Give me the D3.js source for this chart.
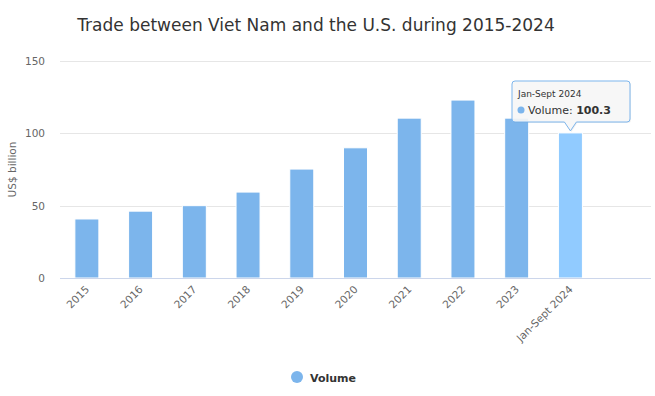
<!DOCTYPE html>
<html>
<head>
<meta charset="utf-8">
<script src="https://cdn.jsdelivr.net/npm/d3@7"></script>
<style>
  body { margin: 0; background: #fff; }
  svg { font-family: 'DejaVu Sans', sans-serif; display: block; }
</style>
</head>
<body>
<svg id="chart" width="655" height="396"></svg>
<script>
const categories = ['2015', '2016', '2017', '2018', '2019', '2020', '2021', '2022', '2023', 'Jan-Sept 2024'];
const volume = [40.8, 46.2, 50, 59.4, 75.3, 90, 110.5, 123, 110.5, 100.3];
const yTicks = [0, 50, 100, 150];
const highlighted = 'Jan-Sept 2024';

const svg = d3.select('#chart');
const plot = { left: 60, right: 651, top: 61, bottom: 278 };
const step = (plot.right - plot.left) / 11;

const x = d3.scaleBand()
  .domain(categories)
  .range([plot.left, plot.left + step * categories.length]);
const y = d3.scaleLinear()
  .domain([0, 150])
  .range([plot.bottom, plot.top]);

// title
svg.append('text')
  .attr('x', 316)
  .attr('y', 31)
  .attr('text-anchor', 'middle')
  .attr('fill', '#333')
  .style('font-size', '17px')
  .text('Trade between Viet Nam and the U.S. during 2015-2024');

// grid
svg.append('g').selectAll('line')
  .data(yTicks.filter(d => d > 0))
  .enter()
  .append('line')
  .attr('x1', plot.left)
  .attr('x2', plot.right)
  .attr('y1', d => Math.round(y(d)) + 0.5)
  .attr('y2', d => Math.round(y(d)) + 0.5)
  .attr('stroke', '#e6e6e6');

// y axis labels
svg.append('g').selectAll('text')
  .data(yTicks)
  .enter()
  .append('text')
  .attr('x', 45)
  .attr('y', d => y(d) + 4)
  .attr('text-anchor', 'end')
  .attr('fill', '#666')
  .style('font-size', '10.5px')
  .text(d => d);

svg.append('text')
  .attr('transform', `translate(16, ${(plot.top + plot.bottom) / 2}) rotate(-90)`)
  .attr('text-anchor', 'middle')
  .attr('fill', '#666')
  .style('font-size', '10.5px')
  .text('US$ billion');

// bars
const barW = 24;
svg.append('g').selectAll('rect')
  .data(volume)
  .enter()
  .append('rect')
  .attr('x', (d, i) => x(categories[i]) + x.bandwidth() / 2 - barW / 2)
  .attr('y', d => y(d))
  .attr('width', barW)
  .attr('height', d => plot.bottom - y(d))
  .attr('fill', (d, i) => categories[i] === highlighted ? '#91cbff' : '#7cb5ec')
  .attr('stroke', '#fff')
  .attr('stroke-width', 1);

// x axis line
svg.append('line')
  .attr('x1', plot.left)
  .attr('x2', plot.right)
  .attr('y1', plot.bottom + 0.5)
  .attr('y2', plot.bottom + 0.5)
  .attr('stroke', '#ccd6eb');

// x labels
svg.append('g').selectAll('text')
  .data(categories)
  .enter()
  .append('text')
  .attr('transform', d => `translate(${x(d) + x.bandwidth() / 2 + 3}, ${plot.bottom + 12}) rotate(-45)`)
  .attr('text-anchor', 'end')
  .attr('fill', '#666')
  .style('font-size', '10.5px')
  .text(d => d);

// legend
const legend = svg.append('g').attr('transform', 'translate(297, 377)');
legend.append('circle').attr('r', 6).attr('fill', '#7cb5ec');
legend.append('text')
  .attr('x', 13)
  .attr('y', 4.5)
  .attr('fill', '#333')
  .style('font-size', '11px')
  .style('font-weight', 'bold')
  .text('Volume');

// tooltip on the highlighted bar
const hi = categories.indexOf(highlighted);
const tipX = x(highlighted) + x.bandwidth() / 2;
const tipY = y(volume[hi]) - 2;
const box = { x: 512, y: 81, w: 118, h: 41 };
const tip = svg.append('g');
const path = d3.path();
const r = 3;
path.moveTo(box.x + r, box.y);
path.lineTo(box.x + box.w - r, box.y);
path.arcTo(box.x + box.w, box.y, box.x + box.w, box.y + r, r);
path.lineTo(box.x + box.w, box.y + box.h - r);
path.arcTo(box.x + box.w, box.y + box.h, box.x + box.w - r, box.y + box.h, r);
path.lineTo(tipX + 6, box.y + box.h);
path.lineTo(tipX, tipY);
path.lineTo(tipX - 6, box.y + box.h);
path.lineTo(box.x + r, box.y + box.h);
path.arcTo(box.x, box.y + box.h, box.x, box.y + box.h - r, r);
path.lineTo(box.x, box.y + r);
path.arcTo(box.x, box.y, box.x + r, box.y, r);
path.closePath();
tip.append('path')
  .attr('d', path.toString())
  .attr('fill', 'rgba(0,0,0,0.06)')
  .attr('transform', 'translate(1,1)');
tip.append('path')
  .attr('d', path.toString())
  .attr('fill', 'rgba(247,247,247,0.9)')
  .attr('stroke', '#7cb5ec')
  .attr('stroke-width', 1);
tip.append('text')
  .attr('x', box.x + 6)
  .attr('y', box.y + 16)
  .attr('fill', '#333')
  .style('font-size', '9px')
  .text(highlighted);
tip.append('circle')
  .attr('cx', box.x + 9)
  .attr('cy', box.y + 29)
  .attr('r', 3.5)
  .attr('fill', '#7cb5ec');
const t = tip.append('text')
  .attr('x', box.x + 16)
  .attr('y', box.y + 33)
  .attr('fill', '#333')
  .style('font-size', '11px');
t.append('tspan').text('Volume: ');
t.append('tspan').style('font-weight', 'bold').text(volume[hi]);
</script>
</body>
</html>
